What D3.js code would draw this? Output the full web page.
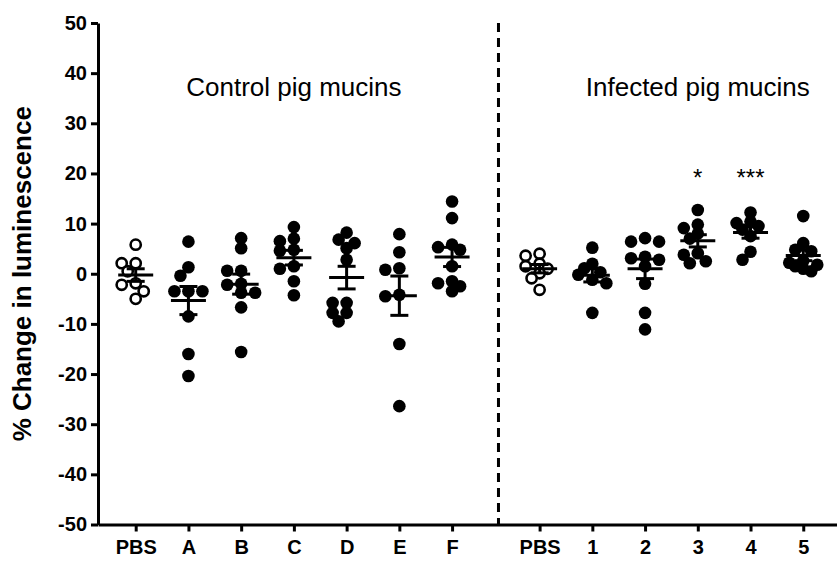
<!DOCTYPE html>
<html>
<head>
<meta charset="utf-8">
<script src="https://cdn.jsdelivr.net/npm/d3@7"></script>
<style>
  html, body { margin: 0; padding: 0; background: #fff; }
  svg { display: block; font-family: "Liberation Sans", Arial, sans-serif; }
</style>
</head>
<body>
<div id="chart"></div>
<script>
// --- data (% change in luminescence) ---
const controlLabels = ['PBS', 'A', 'B', 'C', 'D', 'E', 'F'];
const infectedLabels = ['PBS', '1', '2', '3', '4', '5'];

const controlValues = [
  [5.8, 2.1, 2.1, 0.5, -2.2, -1.9, -3.5, -5.0],                 // PBS
  [6.4, 1.3, -0.4, -3.5, -3.5, -3.5, -8.5, -16.0, -20.4],       // A
  [7.1, 5.1, 0.6, 0.6, -2.2, -2.0, -3.8, -3.8, -6.7, -15.6],    // B
  [9.3, 7.0, 6.5, 4.8, 4.6, 1.5, 1.0, -1.5, -4.3],              // C
  [8.2, 6.8, 6.1, 5.1, 2.8, -5.8, -5.8, -7.8, -7.8, -9.5],      // D
  [7.9, 4.3, 1.1, 0.8, -4.5, -4.2, -14.0, -26.4],               // E
  [14.4, 11.1, 5.8, 5.3, 4.8, 1.5, -1.5, -1.9, -2.5, -3.5]      // F
];
const infectedValues = [
  [4.0, 3.6, 2.0, 1.5, 1.0, 0.1, -0.9, -3.2],                   // PBS
  [5.2, 2.0, 1.1, 0.3, -0.2, -1.2, -1.9, -7.8],                 // 1
  [7.1, 6.4, 6.4, 3.4, 3.1, 2.8, 1.5, -2.0, -7.8, -11.1],       // 2
  [12.7, 9.8, 9.1, 8.0, 7.0, 4.1, 3.8, 2.1, 2.5],               // 3
  [12.2, 10.4, 10.1, 9.5, 8.8, 7.5, 4.4, 2.8],                  // 4
  [11.5, 6.1, 4.8, 4.5, 2.6, 2.2, 1.8, 1.5, 1.0, 0.5]           // 5
];
const significance = ['', '', '', '*', '***', ''];               // infected groups
const yTicks = [-50, -40, -30, -20, -10, 0, 10, 20, 30, 40, 50];
const panelTitles = ['Control pig mucins', 'Infected pig mucins'];

// --- layout ---
const width = 837, height = 561;
const GAP = 1.66;           // extra slots between the two panels
const DIVIDER = 6.88;       // slot where the dashed line sits
const R = 6.3;
const FONT = '"Liberation Sans", Arial, sans-serif';

const groups = [];
controlLabels.forEach((lab, i) => groups.push({ label: lab, slot: i, values: controlValues[i], open: lab === 'PBS', sig: '' }));
infectedLabels.forEach((lab, i) => groups.push({ label: lab, slot: 6 + GAP + i, values: infectedValues[i], open: lab === 'PBS', sig: significance[i] }));

const svg = d3.select('#chart').append('svg')
  .attr('width', width)
  .attr('height', height);

const x = d3.scaleLinear().domain([-0.715, 13.3]).range([98, 837]);
const y = d3.scaleLinear().domain([-50, 50]).range([524.5, 23]);

// y axis
const yAxis = svg.append('g')
  .attr('transform', `translate(${x.range()[0]},0)`)
  .call(d3.axisLeft(y).tickValues(yTicks).tickFormat(d => String(d))
    .tickSize(7).tickSizeOuter(0).tickPadding(4));
yAxis.selectAll('text')
  .attr('font-size', 20).attr('font-weight', 'bold').attr('fill', '#000')
  .attr('font-family', FONT);

// x axis
const xAxis = svg.append('g')
  .attr('transform', `translate(0,${y(-50)})`)
  .call(d3.axisBottom(x)
    .tickValues(groups.map(g => g.slot))
    .tickFormat((d, i) => groups[i].label)
    .tickSize(7).tickSizeOuter(0).tickPadding(8));
xAxis.selectAll('text')
  .attr('font-size', 20).attr('font-weight', 'bold').attr('fill', '#000')
  .attr('font-family', FONT);

svg.selectAll('.domain, .tick line')
  .attr('stroke', '#000').attr('stroke-width', 3);

// dashed divider
svg.append('line')
  .attr('x1', x(DIVIDER)).attr('x2', x(DIVIDER))
  .attr('y1', y(50)).attr('y2', y(-50))
  .attr('stroke', '#000').attr('stroke-width', 3)
  .attr('stroke-dasharray', '9,6');

// axis title
svg.append('text')
  .attr('transform', `translate(31,${y(0)}) rotate(-90)`)
  .attr('text-anchor', 'middle')
  .attr('font-size', 26).attr('font-weight', 'bold')
  .text('% Change in luminescence');

// panel titles
svg.append('text')
  .attr('x', x(3)).attr('y', 96)
  .attr('text-anchor', 'middle').attr('font-size', 26)
  .text(panelTitles[0]);
svg.append('text')
  .attr('x', x(6 + GAP + 3)).attr('y', 96)
  .attr('text-anchor', 'middle').attr('font-size', 26)
  .text(panelTitles[1]);

// compact beeswarm: spread sideways within a narrow band, overlap allowed
function swarm(values) {
  const offsets = [0, -8, 8, -14, 14];
  const minDist = 9;
  const placed = [];
  values.slice().sort((a, b) => b - a).forEach(v => {
    const py = y(v);
    let best = 0, bestDist = -1;
    for (const off of offsets) {
      const d = placed.length ? d3.min(placed, p => Math.hypot(p.dx - off, p.py - py)) : Infinity;
      if (d >= minDist) { best = off; bestDist = Infinity; break; }
      if (d > bestDist) { bestDist = d; best = off; }
    }
    placed.push({ v, dx: best, py });
  });
  return placed;
}

const g = svg.append('g').attr('class', 'groups');

groups.forEach(grp => {
  const cx = x(grp.slot);
  const mean = d3.mean(grp.values);
  const sem = d3.deviation(grp.values) / Math.sqrt(grp.values.length);
  const gg = g.append('g');

  gg.selectAll('circle')
    .data(swarm(grp.values))
    .enter()
    .append('circle')
    .attr('cx', d => cx + d.dx)
    .attr('cy', d => d.py)
    .attr('r', grp.open ? R - 1.2 : R)
    .attr('fill', grp.open ? '#fff' : '#000')
    .attr('stroke', '#000')
    .attr('stroke-width', grp.open ? 2.6 : 0);

  // mean and SEM
  const line = (x1, x2, y1, y2) => gg.append('line')
    .attr('x1', x1).attr('x2', x2).attr('y1', y1).attr('y2', y2)
    .attr('stroke', '#000').attr('stroke-width', 3);
  line(cx - 17.5, cx + 17.5, y(mean), y(mean));
  line(cx, cx, y(mean - sem), y(mean + sem));
  line(cx - 9, cx + 9, y(mean - sem), y(mean - sem));
  line(cx - 9, cx + 9, y(mean + sem), y(mean + sem));

  if (grp.sig) {
    gg.append('text')
      .attr('x', cx).attr('y', 186)
      .attr('text-anchor', 'middle').attr('font-size', 24)
      .text(grp.sig);
  }
});
</script>
</body>
</html>
